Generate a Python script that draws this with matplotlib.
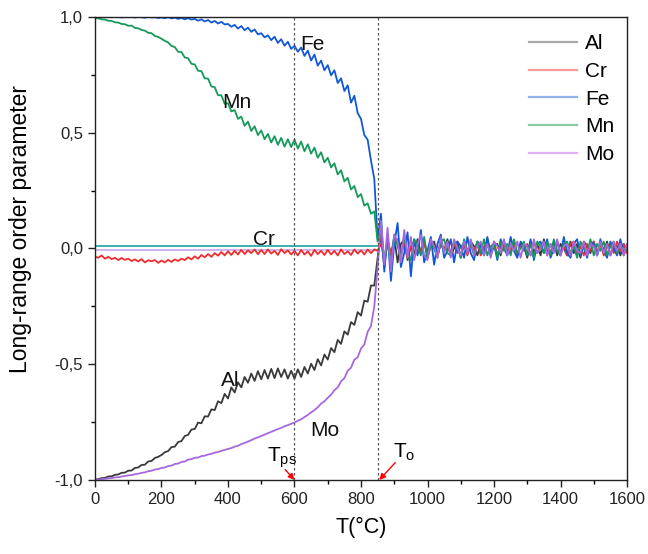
import numpy as np
import matplotlib
matplotlib.use("Agg")
import matplotlib.pyplot as plt
from matplotlib.lines import Line2D

plt.rcParams['font.family'] = ['Liberation Sans', 'DejaVu Sans']
plt.rcParams['mathtext.fontset'] = 'custom'
plt.rcParams['mathtext.rm'] = 'Liberation Sans'
plt.rcParams['mathtext.it'] = 'Liberation Sans'

# temperature grid (°C), 10-degree sampling
T = np.arange(0, 1601, 10)

# ---- ordered range, 0..850 °C (86 values each) ----
fe_ord = [1.0,1.0,0.999,1.0,1.0,0.999,1.0,1.0,0.998,1.0,
          0.999,1.0,0.998,1.0,0.999,0.997,1.0,0.998,0.999,0.996,
          0.998,0.995,0.999,0.994,0.997,0.992,0.996,0.990,0.995,0.989,
          0.992,0.984,0.990,0.981,0.987,0.976,0.983,0.972,0.979,0.968,
          0.970,0.958,0.966,0.950,0.961,0.943,0.954,0.936,0.946,0.925,
          0.930,0.912,0.921,0.900,0.915,0.888,0.904,0.876,0.893,0.862,
          0.876,0.850,0.868,0.832,0.855,0.812,0.838,0.790,0.812,0.770,
          0.792,0.748,0.770,0.715,0.735,0.680,0.705,0.630,0.660,0.585,
          0.560,0.490,0.470,0.380,0.300,0.040]
mn_ord = [0.995,0.994,0.990,0.989,0.984,0.983,0.977,0.976,0.970,0.969,
          0.962,0.963,0.953,0.951,0.944,0.941,0.932,0.930,0.918,0.914,
          0.906,0.897,0.890,0.875,0.870,0.850,0.849,0.825,0.822,0.798,
          0.795,0.768,0.766,0.735,0.734,0.700,0.697,0.662,0.662,0.625,
          0.628,0.592,0.598,0.560,0.570,0.530,0.548,0.508,0.528,0.490,
          0.510,0.472,0.495,0.458,0.485,0.448,0.478,0.440,0.472,0.438,
          0.470,0.432,0.462,0.420,0.450,0.410,0.436,0.392,0.416,0.372,
          0.392,0.350,0.368,0.320,0.338,0.290,0.305,0.255,0.270,0.222,
          0.235,0.185,0.195,0.150,0.160,0.030]
al_ord = [-0.998,-0.996,-0.992,-0.991,-0.985,-0.984,-0.978,-0.976,-0.969,-0.968,
          -0.960,-0.959,-0.948,-0.946,-0.935,-0.934,-0.920,-0.918,-0.905,-0.900,
          -0.892,-0.880,-0.875,-0.858,-0.856,-0.836,-0.832,-0.810,-0.805,-0.782,
          -0.780,-0.752,-0.755,-0.725,-0.726,-0.695,-0.698,-0.660,-0.668,-0.628,
          -0.648,-0.600,-0.622,-0.578,-0.600,-0.555,-0.580,-0.540,-0.572,-0.530,
          -0.565,-0.525,-0.562,-0.520,-0.560,-0.518,-0.555,-0.522,-0.562,-0.528,
          -0.562,-0.522,-0.555,-0.512,-0.540,-0.498,-0.525,-0.478,-0.505,-0.458,
          -0.480,-0.430,-0.448,-0.395,-0.412,-0.358,-0.372,-0.318,-0.330,-0.275,
          -0.290,-0.225,-0.230,-0.160,-0.160,-0.040]
mo_ord = [-0.998,-0.998,-0.996,-0.995,-0.993,-0.992,-0.989,-0.988,-0.985,-0.983,
          -0.980,-0.979,-0.975,-0.973,-0.969,-0.967,-0.962,-0.960,-0.955,-0.953,
          -0.948,-0.946,-0.940,-0.938,-0.931,-0.929,-0.922,-0.920,-0.912,-0.910,
          -0.904,-0.903,-0.897,-0.895,-0.890,-0.887,-0.882,-0.879,-0.874,-0.870,
          -0.866,-0.862,-0.856,-0.852,-0.845,-0.840,-0.834,-0.828,-0.821,-0.816,
          -0.810,-0.804,-0.798,-0.792,-0.786,-0.780,-0.775,-0.768,-0.763,-0.757,
          -0.752,-0.744,-0.738,-0.728,-0.719,-0.708,-0.698,-0.686,-0.670,-0.660,
          -0.645,-0.632,-0.612,-0.600,-0.574,-0.560,-0.528,-0.515,-0.480,-0.470,
          -0.432,-0.415,-0.360,-0.335,-0.250,-0.080]
cr_ord = [-0.035,-0.040,-0.030,-0.044,-0.036,-0.046,-0.040,-0.050,-0.041,-0.049,
          -0.044,-0.054,-0.047,-0.056,-0.046,-0.060,-0.051,-0.055,-0.050,-0.062,
          -0.052,-0.060,-0.049,-0.058,-0.047,-0.054,-0.044,-0.050,-0.038,-0.047,
          -0.034,-0.044,-0.028,-0.038,-0.024,-0.036,-0.020,-0.031,-0.015,-0.030,
          -0.012,-0.028,-0.010,-0.026,-0.006,-0.024,-0.008,-0.020,-0.004,-0.025,
          -0.006,-0.024,-0.004,-0.022,-0.010,-0.028,-0.003,-0.020,-0.008,-0.026,
          -0.010,-0.030,-0.006,-0.026,-0.012,-0.032,-0.006,-0.024,-0.010,-0.028,
          -0.006,-0.026,-0.010,-0.030,-0.004,-0.024,-0.012,-0.028,-0.004,-0.022,
          -0.008,-0.026,-0.004,-0.020,-0.004,-0.010]

# ---- disordered range, 860..1600 °C (75 values each) ----
fe_dis = [0.150,-0.100,0.060,-0.140,0.020,0.110,-0.080,-0.020,0.070,-0.120,
          0.040,-0.030,0.080,-0.060,-0.010,0.050,-0.070,0.020,0.060,-0.040,
          -0.010,0.040,-0.060,0.030,0.010,-0.040,0.050,-0.020,-0.050,0.030,
          0.010,-0.030,0.050,-0.020,0.020,-0.050,0.040,0.000,-0.030,0.050,
          -0.010,-0.040,0.030,0.010,-0.030,0.040,-0.050,0.020,0.030,-0.020,
          0.040,-0.040,0.000,0.030,-0.030,0.050,-0.020,-0.040,0.020,0.040,
          -0.030,0.010,-0.040,0.030,0.020,-0.030,0.040,-0.010,-0.040,0.030,
          0.000,-0.030,0.040,-0.020,0.010]
mn_dis = [0.080,-0.050,0.030,-0.070,0.060,0.010,-0.040,0.050,-0.020,-0.050,
          0.040,0.010,-0.030,0.050,-0.040,0.020,0.000,-0.040,0.030,0.040,
          -0.020,-0.030,0.030,0.010,-0.040,0.040,-0.010,0.020,-0.030,0.030,
          -0.020,0.040,-0.030,0.010,0.020,-0.040,0.030,-0.010,0.020,-0.030,
          0.040,-0.020,0.000,0.030,-0.030,0.020,-0.040,0.030,0.010,-0.020,
          0.030,-0.030,0.040,-0.010,-0.030,0.020,0.030,-0.020,0.010,-0.040,
          0.030,0.000,-0.020,0.040,-0.030,0.020,-0.010,0.030,-0.030,0.010,
          0.030,-0.020,0.020,-0.030,0.010]
al_dis = [0.060,-0.080,0.040,-0.030,0.050,-0.060,0.020,0.040,-0.050,0.010,
          -0.030,0.040,-0.020,0.030,-0.040,0.010,0.030,-0.030,0.020,-0.010,
          0.040,-0.030,0.000,0.030,-0.040,0.020,-0.020,0.030,0.010,-0.030,
          0.020,-0.020,0.040,-0.030,0.010,0.020,-0.030,0.030,-0.010,-0.020,
          0.030,-0.030,0.020,0.010,-0.040,0.030,-0.020,0.020,-0.030,0.040,
          -0.010,-0.020,0.030,-0.030,0.020,0.000,-0.030,0.030,-0.020,0.020,
          -0.040,0.030,0.010,-0.020,0.030,-0.030,0.020,-0.010,0.030,-0.030,
          0.020,0.010,-0.030,0.020,-0.010]
mo_dis = [0.120,-0.070,0.090,-0.100,0.060,0.030,-0.060,0.080,-0.040,0.050,
          -0.050,0.020,0.060,-0.030,-0.050,0.040,0.010,-0.040,0.050,-0.020,
          0.030,-0.040,0.040,0.000,-0.030,0.030,-0.020,0.040,-0.030,0.010,
          0.030,-0.030,0.020,-0.040,0.030,0.010,-0.020,0.040,-0.030,0.020,
          -0.010,0.030,-0.040,0.020,0.010,-0.030,0.040,-0.020,0.000,0.030,
          -0.030,0.020,-0.020,0.040,-0.030,0.010,0.020,-0.030,0.030,-0.010,
          -0.020,0.030,-0.030,0.020,0.010,-0.030,0.030,-0.020,0.020,-0.030,
          0.030,-0.010,0.020,-0.030,0.020]
cr_dis = [0.020,-0.040,0.030,-0.020,0.010,0.040,-0.030,0.020,-0.040,0.010,
          0.030,-0.020,-0.010,0.030,-0.030,0.020,0.000,-0.030,0.030,-0.010,
          0.020,-0.030,0.030,-0.020,0.010,0.020,-0.030,0.020,-0.010,0.030,
          -0.030,0.010,0.020,-0.020,0.030,-0.030,0.010,0.020,-0.020,0.000,
          0.030,-0.030,0.020,-0.010,0.020,-0.030,0.030,-0.020,0.010,0.020,
          -0.030,0.020,-0.010,0.030,-0.020,0.010,-0.030,0.020,0.030,-0.020,
          0.010,-0.030,0.020,-0.010,0.030,-0.020,0.020,-0.030,0.010,0.020,
          -0.020,0.030,-0.010,0.020,-0.020]

al = al_ord + al_dis
cr = cr_ord + cr_dis
fe = fe_ord + fe_dis
mn = mn_ord + mn_dis
mo = mo_ord + mo_dis

# flat reference lines near zero up to the order-disorder temperature
ref_T = [0, 850]
ref_teal = [0.012, 0.012]
ref_lav = [-0.006, -0.006]

T_ps = 600
T_o = 850

series_names = ['Al', 'Cr', 'Fe', 'Mn', 'Mo']
series_colors = ['#3a3a3a', '#ee2e2e', '#1058d8', '#139a5b', '#a568de']
legend_colors = ['#a8a8a8', '#ff9a9a', '#8fb2ea', '#8ccaa9', '#deb0f2']
series_data = [al, cr, fe, mn, mo]

fig = plt.figure(figsize=(6.48, 5.54), dpi=100)
ax = fig.add_axes([0.1466, 0.1336, 0.8210, 0.8357])

ax.plot(ref_T, ref_lav, color='#c8a8e8', lw=1.2, zorder=1)
ax.plot(ref_T, ref_teal, color='#1aa3a3', lw=1.2, zorder=1)
for name, col, d in zip(series_names, series_colors, series_data):
    ax.plot(T, d, color=col, lw=1.3, zorder=2)

for tv in (T_ps, T_o):
    ax.axvline(tv, color='#555555', lw=0.9, ls=(0, (2, 2)), zorder=3)

ax.set_xlim(0, 1600)
ax.set_ylim(-1.0, 1.0)
ax.set_xticks(np.arange(0, 1601, 200))
ax.set_xticks(np.arange(0, 1601, 100), minor=True)
ax.set_yticks([-1.0, -0.5, 0.0, 0.5, 1.0])
ax.set_yticklabels(['-1,0', '-0,5', '0,0', '0,5', '1,0'])
ax.set_yticks([-0.75, -0.25, 0.25, 0.75], minor=True)
ax.tick_params(axis='both', which='major', direction='out', length=5, width=1,
               labelsize=12, colors='#222222')
ax.tick_params(axis='both', which='minor', direction='out', length=3, width=1)
for sp in ax.spines.values():
    sp.set_linewidth(1.0)
    sp.set_color('#222222')

ax.set_xlabel('T(°C)', fontsize=15.5, labelpad=7)
fig.text(21 / 648, 1 - 229 / 554, 'Long-range order parameter', fontsize=16.5,
         rotation=90, ha='center', va='center')

lab_kw = dict(fontsize=15, color='#111111', ha='center', va='center', zorder=5)
ax.text(655, 0.88, 'Fe', **lab_kw)
ax.text(428, 0.63, 'Mn', **lab_kw)
ax.text(508, 0.04, 'Cr', **lab_kw)
ax.text(408, -0.57, 'Al', **lab_kw)
ax.text(692, -0.785, 'Mo', **lab_kw)

ax.text(562, -0.905, r'T$_{\rm ps}$', fontsize=15, ha='center', va='center', zorder=5)
ax.text(930, -0.88, r'T$_{\rm o}$', fontsize=15, ha='center', va='center', zorder=5)
arrow_kw = dict(arrowstyle='-|>', color='red', lw=1.0, mutation_scale=9,
                shrinkA=0, shrinkB=0)
ax.annotate('', xy=(T_ps, -1.0), xytext=(572, -0.955), arrowprops=arrow_kw)
ax.annotate('', xy=(T_o + 5, -1.0), xytext=(903, -0.925), arrowprops=arrow_kw)

handles = [Line2D([0], [0], color=c, lw=1.6) for c in legend_colors]
ax.legend(handles, series_names, loc='upper right', frameon=False, fontsize=15,
          handlelength=2.3, labelspacing=0.42, handletextpad=0.4,
          bbox_to_anchor=(1.0, 0.99), borderaxespad=0.2)

fig.savefig('out.png', dpi=100)
